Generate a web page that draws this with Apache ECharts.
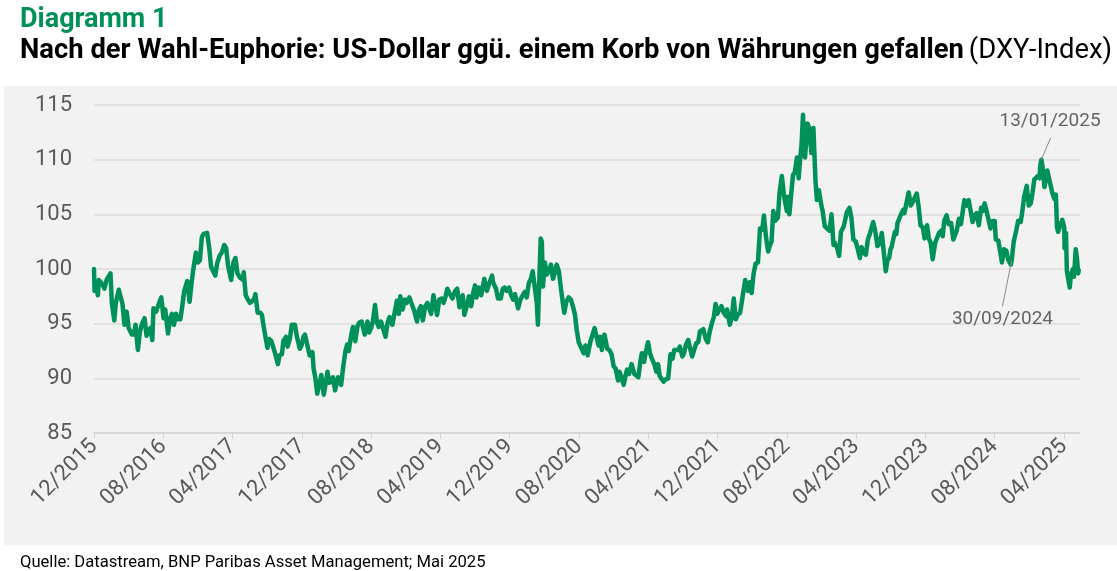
<!DOCTYPE html>
<html>
<head>
<meta charset="utf-8">
<script src="https://cdn.jsdelivr.net/npm/echarts@6/dist/echarts.min.js"></script>
<style>
html,body{margin:0;padding:0;background:#fff;}
#c{width:1117px;height:571px;}
</style>
</head>
<body>
<div id="c"></div>
<script>
// ---- DATA ----
const dates = [
'2015-12-01','2015-12-03','2015-12-08','2015-12-15','2015-12-18','2015-12-31',
'2016-01-07','2016-01-15','2016-01-21','2016-01-29','2016-02-03','2016-02-11','2016-02-16','2016-02-26',
'2016-03-01','2016-03-10','2016-03-17','2016-03-25','2016-04-01','2016-04-12','2016-04-19','2016-04-25',
'2016-05-03','2016-05-10','2016-05-18','2016-05-27','2016-06-03','2016-06-08','2016-06-16','2016-06-23',
'2016-06-27','2016-07-06','2016-07-12','2016-07-20','2016-07-25','2016-08-02','2016-08-08','2016-08-18',
'2016-08-26','2016-09-01','2016-09-08','2016-09-15','2016-09-21','2016-09-30','2016-10-07','2016-10-14',
'2016-10-25','2016-11-02','2016-11-09','2016-11-14','2016-11-24','2016-12-01','2016-12-08','2016-12-15',
'2016-12-21','2017-01-03','2017-01-11','2017-01-17','2017-01-23','2017-02-01','2017-02-07','2017-02-15',
'2017-02-22','2017-03-02','2017-03-09','2017-03-16','2017-03-27','2017-04-04','2017-04-11','2017-04-18',
'2017-04-27','2017-05-08','2017-05-10','2017-05-17','2017-05-25','2017-06-01','2017-06-07','2017-06-15',
'2017-06-20','2017-06-28','2017-07-07','2017-07-13','2017-07-19','2017-07-27','2017-08-02','2017-08-08',
'2017-08-16','2017-08-22','2017-08-29','2017-09-08','2017-09-14','2017-09-22','2017-09-27','2017-10-06',
'2017-10-12','2017-10-20','2017-10-27','2017-11-07','2017-11-14','2017-11-24','2017-11-30','2017-12-07',
'2017-12-12','2017-12-19','2017-12-29','2018-01-08','2018-01-12','2018-01-18','2018-01-25','2018-02-01',
'2018-02-08','2018-02-16','2018-02-28','2018-03-06','2018-03-14','2018-03-19','2018-03-27','2018-04-06',
'2018-04-17','2018-04-24','2018-05-02','2018-05-08','2018-05-14','2018-05-23','2018-05-29','2018-06-06',
'2018-06-14','2018-06-20','2018-06-28','2018-07-09','2018-07-19','2018-07-25','2018-08-01','2018-08-07',
'2018-08-15','2018-08-22','2018-08-28','2018-09-05','2018-09-13','2018-09-21','2018-09-28','2018-10-05',
'2018-10-15','2018-10-26','2018-10-31','2018-11-07','2018-11-12','2018-11-20','2018-11-28','2018-12-04',
'2018-12-14','2018-12-21','2018-12-31','2019-01-10','2019-01-18','2019-01-24','2019-01-31','2019-02-08',
'2019-02-15','2019-02-27','2019-03-07','2019-03-14','2019-03-20','2019-03-28','2019-04-05','2019-04-12',
'2019-04-19','2019-04-25','2019-05-02','2019-05-13','2019-05-23','2019-05-30','2019-06-07','2019-06-18',
'2019-06-24','2019-07-03','2019-07-10','2019-07-18','2019-07-25','2019-08-01','2019-08-06','2019-08-15',
'2019-08-23','2019-09-03','2019-09-12','2019-09-19','2019-09-30','2019-10-03','2019-10-14','2019-10-21',
'2019-10-31','2019-11-07','2019-11-14','2019-11-21','2019-11-29','2019-12-05','2019-12-13','2019-12-20',
'2019-12-31','2020-01-08','2020-01-17','2020-01-24','2020-01-31','2020-02-07','2020-02-14','2020-02-20',
'2020-02-28','2020-03-05','2020-03-09','2020-03-12','2020-03-19','2020-03-23','2020-03-27','2020-04-03',
'2020-04-09','2020-04-17','2020-04-24','2020-05-01','2020-05-08','2020-05-14','2020-05-22','2020-05-29',
'2020-06-05','2020-06-10','2020-06-17','2020-06-25','2020-07-03','2020-07-10','2020-07-17','2020-07-24',
'2020-07-31','2020-08-07','2020-08-18','2020-08-24','2020-09-01','2020-09-10','2020-09-16','2020-09-25',
'2020-10-02','2020-10-09','2020-10-15','2020-10-21','2020-10-30','2020-11-04','2020-11-09','2020-11-16',
'2020-11-24','2020-12-01','2020-12-08','2020-12-17','2020-12-22','2020-12-31','2021-01-06','2021-01-13',
'2021-01-18','2021-01-25','2021-02-03','2021-02-05','2021-02-12','2021-02-25','2021-03-04','2021-03-09',
'2021-03-17','2021-03-23','2021-03-31','2021-04-07','2021-04-15','2021-04-22','2021-04-29','2021-05-05',
'2021-05-11','2021-05-25','2021-06-01','2021-06-10','2021-06-18','2021-06-25','2021-07-01','2021-07-07',
'2021-07-15','2021-07-21','2021-07-30','2021-08-05','2021-08-12','2021-08-20','2021-08-27','2021-09-03',
'2021-09-10','2021-09-17','2021-09-24','2021-09-30','2021-10-07','2021-10-12','2021-10-21','2021-10-28',
'2021-11-04','2021-11-12','2021-11-18','2021-11-24','2021-11-30','2021-12-07','2021-12-15','2021-12-23',
'2021-12-31','2022-01-04','2022-01-14','2022-01-21','2022-01-28','2022-02-04','2022-02-10','2022-02-18',
'2022-02-24','2022-03-07','2022-03-11','2022-03-17','2022-03-24','2022-03-30','2022-04-06','2022-04-13',
'2022-04-21','2022-04-28','2022-05-06','2022-05-12','2022-05-19','2022-05-27','2022-06-03','2022-06-08',
'2022-06-14','2022-06-21','2022-06-30','2022-07-06','2022-07-14','2022-07-22','2022-08-01','2022-08-05',
'2022-08-10','2022-08-15','2022-08-23','2022-08-29','2022-09-06','2022-09-12','2022-09-16','2022-09-22',
'2022-09-27','2022-09-30','2022-10-04','2022-10-13','2022-10-19','2022-10-27','2022-11-03','2022-11-10',
'2022-11-15','2022-11-22','2022-11-30','2022-12-05','2022-12-13','2022-12-20','2022-12-30','2023-01-06',
'2023-01-13','2023-01-18','2023-01-26','2023-02-02','2023-02-08','2023-02-17','2023-02-27','2023-03-08',
'2023-03-15','2023-03-22','2023-03-31','2023-04-06','2023-04-14','2023-04-20','2023-04-27','2023-05-05',
'2023-05-12','2023-05-19','2023-05-31','2023-06-07','2023-06-15','2023-06-22','2023-06-30','2023-07-06',
'2023-07-14','2023-07-20','2023-07-26','2023-07-31','2023-08-04','2023-08-08','2023-08-16','2023-08-21',
'2023-08-25','2023-09-01','2023-09-08','2023-09-14','2023-09-18','2023-09-22','2023-10-03','2023-10-11',
'2023-10-19','2023-10-24','2023-11-01','2023-11-08',
'2023-11-14','2023-11-22','2023-11-28','2023-12-07','2023-12-13','2023-12-20','2023-12-27','2024-01-05',
'2024-01-11','2024-01-19','2024-01-26','2024-02-01','2024-02-06','2024-02-14','2024-02-21','2024-02-29',
'2024-03-08','2024-03-13','2024-03-20','2024-03-28','2024-04-04','2024-04-10','2024-04-16','2024-04-24',
'2024-05-01','2024-05-07','2024-05-15','2024-05-22','2024-05-29','2024-06-06','2024-06-14','2024-06-20',
'2024-06-26','2024-07-03','2024-07-11','2024-07-17','2024-07-24','2024-08-01','2024-08-05','2024-08-14',
'2024-08-27','2024-09-03','2024-09-11','2024-09-17','2024-09-27','2024-09-30','2024-10-07','2024-10-16',
'2024-10-23','2024-11-01','2024-11-06','2024-11-13','2024-11-22','2024-11-29','2024-12-06','2024-12-12',
'2024-12-19','2024-12-31','2025-01-06','2025-01-10','2025-01-13','2025-01-17','2025-01-24','2025-01-31',
'2025-02-03','2025-02-11','2025-02-19','2025-02-26','2025-03-03','2025-03-07','2025-03-11','2025-03-18',
'2025-03-26','2025-04-02','2025-04-03','2025-04-08','2025-04-11','2025-04-21','2025-04-25','2025-05-02',
'2025-05-06','2025-05-12','2025-05-16','2025-05-21','2025-05-23'
];
const dxy = [
100.0,98.0,98.6,97.6,99.0,98.6,
98.2,99.0,98.9,99.6,96.8,95.3,96.9,98.1,
98.2,96.8,94.9,96.1,94.6,94.0,94.0,94.9,
92.6,94.2,95.0,95.5,93.9,93.9,94.6,93.5,
96.4,96.1,96.2,97.1,97.4,95.5,96.3,94.1,
95.5,95.9,94.9,95.9,95.4,95.4,96.6,98.0,
98.9,97.0,98.7,99.8,101.5,100.6,100.8,102.9,
103.2,103.3,101.8,100.2,100.1,99.4,100.5,101.2,
101.5,102.2,101.9,100.3,99.0,100.6,101.0,99.6,
99.2,99.0,99.7,97.6,97.2,96.9,96.8,97.2,
97.7,96.0,96.0,95.8,94.8,93.6,92.8,93.6,
93.4,93.4,92.3,91.3,92.1,92.2,93.4,93.8,
92.9,93.6,94.9,94.9,93.8,92.7,93.0,93.8,
94.0,93.2,92.1,92.4,90.9,90.1,88.6,88.7,
90.3,88.5,90.6,89.6,89.7,90.1,88.9,90.1,
89.4,91.0,92.5,93.1,92.5,94.0,94.7,93.4,
94.8,95.1,95.2,94.0,95.2,94.2,94.6,95.2,
96.7,95.1,94.7,95.2,94.5,93.8,95.1,95.6,
94.9,96.4,97.1,95.9,97.5,96.3,97.2,96.9,
97.4,96.9,96.2,95.2,96.3,96.6,95.3,96.6,
96.9,95.9,97.6,96.7,95.8,97.2,97.3,96.9,
97.5,98.2,97.8,97.3,98.0,98.2,96.5,97.6,
95.8,96.7,97.5,96.6,97.8,98.5,97.4,98.3,
97.6,99.1,98.0,98.6,99.4,98.8,98.2,97.3,
97.3,98.2,98.3,98.0,98.3,97.7,97.2,97.7,
96.4,97.2,97.6,97.9,97.4,98.7,99.1,99.8,
98.1,96.9,94.9,97.5,102.8,102.5,98.4,100.6,
99.5,99.8,100.4,99.1,99.7,100.4,99.8,98.3,
96.9,96.0,97.0,97.4,97.2,96.6,95.9,94.4,
93.3,93.4,92.3,93.0,92.1,93.3,93.2,94.6,
93.8,93.0,93.8,92.6,94.0,93.4,92.7,92.6,
92.2,91.1,90.9,89.8,90.6,89.9,89.4,90.3,
90.8,90.4,91.3,91.2,90.4,90.1,91.6,92.3,
91.5,92.4,93.3,92.3,91.7,91.3,90.6,91.3,
90.2,89.7,89.9,90.0,92.2,91.8,92.6,92.7,
92.6,92.9,92.0,92.3,93.1,93.5,92.7,92.0,
92.6,93.2,93.3,94.3,94.2,94.5,93.6,93.3,
94.3,95.1,95.6,96.8,95.9,96.3,96.6,96.0,
95.7,96.3,94.9,95.6,97.3,95.4,95.8,96.0,
97.1,99.0,99.1,98.0,98.8,97.8,99.6,100.5,
100.6,103.7,103.6,104.9,103.0,101.6,102.2,102.5,
105.3,104.4,104.7,107.0,108.5,106.7,105.3,106.6,
105.0,106.4,108.6,108.8,110.2,108.3,109.7,111.4,
114.1,112.1,110.2,113.3,112.9,110.6,112.9,108.2,
106.3,107.2,105.9,105.3,103.9,104.0,103.5,105.0,
102.2,102.4,101.9,101.2,103.4,103.9,105.2,105.6,
104.7,102.7,102.5,101.9,101.0,102.0,101.5,101.3,
102.7,103.2,104.3,103.5,102.1,102.3,103.3,103.2,
99.8,100.8,101.0,101.8,102.0,102.5,103.4,103.2,
104.2,104.3,105.1,105.4,105.1,105.6,107.0,105.8,
106.2,106.3,106.9,105.6,
104.0,103.8,102.8,104.0,102.8,102.4,100.9,102.4,
102.3,103.3,103.5,103.0,104.4,104.9,104.1,104.2,
102.7,102.8,103.5,104.6,104.1,105.2,106.3,105.8,
106.3,105.4,104.3,104.9,105.1,104.0,105.6,105.3,
106.0,105.3,104.4,103.7,104.4,104.4,102.7,102.6,
100.6,101.8,101.7,100.9,100.4,100.8,102.5,103.5,
104.4,104.3,105.1,106.6,107.6,105.8,106.0,106.9,
108.2,108.5,108.3,109.6,110.0,109.4,107.5,108.4,
109.0,108.0,107.0,106.4,106.8,103.8,103.4,103.3,
104.5,103.8,101.9,103.3,99.8,98.3,99.5,100.0,
99.3,101.8,101.1,99.6,99.9
];
const xTickLabels = ['12/2015','08/2016','04/2017','12/2017','08/2018','04/2019','12/2019','08/2020','04/2021','12/2021','08/2022','04/2023','12/2023','08/2024','04/2025'];
const yTicks = [85,90,95,100,105,110,115];
const annotDates = ['2025-01-13','2024-09-30'];
const annotValues = [110.0, 100.8];
const annotTexts = ['13/01/2025','30/09/2024'];

// months since 12/2015 (fractional)
function monthIdx(d){
  const p = d.split('-').map(Number);
  const dim = new Date(p[0], p[1], 0).getDate();
  return (p[0]-2015)*12 + (p[1]-12) + (p[2]-1)/dim;
}
const seriesData = dates.map((d,i)=>[monthIdx(d), dxy[i]]);
const tickPos = xTickLabels.map((_,i)=>i*8);

// annotation label offsets (in axis units) relative to the marked points
const labelOffsets = [[1.0, 3.5],[-1.07, -5.4]];
const lineEndOffsets = [[1.07, 2.0],[-1.07, -4.2]];

const GREEN = '#00915a';
const chart = echarts.init(document.getElementById('c'), null, {renderer:'canvas'});
const annPts = annotDates.map((d,i)=>[monthIdx(d), annotValues[i]]);

const option = {
  animation:false,
  backgroundColor:'#ffffff',
  graphic:[{
    type:'rect', z:-10, silent:true,
    shape:{x:4,y:86,width:1113,height:459},
    style:{fill:'#f2f2f2'}
  }],
  title:[
    {text:'Diagramm 1', left:15, top:2,
     textStyle:{fontFamily:'Roboto', fontWeight:'bold', fontSize:27, color:GREEN}},
    {text:'{b|Nach der Wahl-Euphorie: US-Dollar ggü. einem Korb von Währungen gefallen} {n|(DXY-Index)}',
     left:15, top:33,
     textStyle:{rich:{
       b:{fontFamily:'Roboto', fontWeight:'bold', fontSize:27.4, color:'#000'},
       n:{fontFamily:'Roboto', fontWeight:'normal', fontSize:27.4, color:'#000'}
     }}},
    {text:'Quelle: Datastream, BNP Paribas Asset Management; Mai 2025', left:15, top:549,
     textStyle:{fontFamily:'Roboto', fontWeight:'normal', fontSize:16.6, color:'#000'}}
  ],
  grid:{left:94, right:37, top:105, bottom:138},
  xAxis:{
    type:'value', min:0, max:113.85,
    axisLine:{show:true, lineStyle:{color:'#d4d4d4', width:1.5}},
    axisTick:{show:true, length:6, lineStyle:{color:'#d4d4d4', width:1}, customValues:tickPos},
    axisLabel:{customValues:tickPos, rotate:45, margin:10, fontFamily:'Roboto', fontSize:22, color:'#595959',
      formatter:(v)=>{ const k=Math.round(v/8); return (Math.abs(v-k*8)<1e-6 && xTickLabels[k]) ? xTickLabels[k] : ''; }},
    splitLine:{show:false}
  },
  yAxis:{
    type:'value', min:85, max:115, interval:5,
    axisLine:{show:false}, axisTick:{show:false},
    axisLabel:{margin:22, fontFamily:'Roboto', fontSize:22, color:'#595959',
      customValues:yTicks},
    splitLine:{show:true, lineStyle:{color:'#dcdcdc', width:1.5}}
  },
  series:[
    {
      type:'line', data:seriesData, showSymbol:false, symbol:'none',
      lineStyle:{color:GREEN, width:4.5, join:'round', cap:'round'},
      z:3,
      markLine:{
        silent:true, symbol:['none','none'],
        lineStyle:{color:'#8c8c8c', width:1, type:'solid'},
        label:{show:false},
        data: annPts.map((p,i)=>[
          {coord:[p[0], p[1]]},
          {coord:[p[0]+lineEndOffsets[i][0], p[1]+lineEndOffsets[i][1]]}
        ])
      }
    },
    {
      type:'scatter', symbolSize:0, silent:true, z:5,
      data: annPts.map((p,i)=>({
        value:[p[0]+labelOffsets[i][0], p[1]+labelOffsets[i][1]],
        label:{show:true, position:'inside', formatter:annotTexts[i],
          fontFamily:'Roboto', fontSize:19, color:'#404040'}
      }))
    }
  ]
};
chart.setOption(option);
</script>
</body>
</html>
